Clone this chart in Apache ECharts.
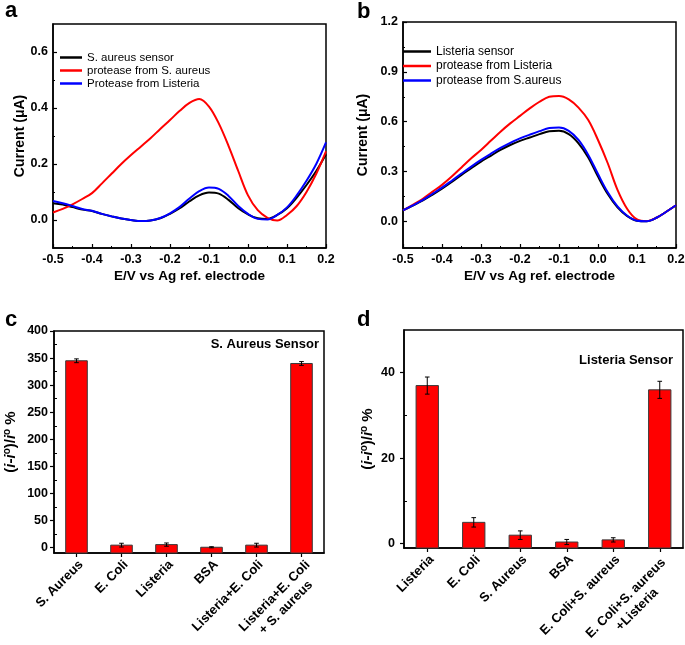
<!DOCTYPE html>
<html>
<head>
<meta charset="utf-8">
<script src="https://cdn.jsdelivr.net/npm/echarts@6.0.0/dist/echarts.min.js"></script>
<style>
html,body{margin:0;padding:0;background:#fff;}
#c{width:685px;height:645px;}
</style>
</head>
<body>
<div id="c"></div>
<script>
// ---- Data ----
const potentials = [-0.5,-0.475,-0.45,-0.425,-0.4,-0.375,-0.35,-0.325,-0.3,-0.275,-0.25,-0.225,-0.2,-0.175,-0.15,-0.125,-0.1,-0.075,-0.05,-0.025,0,0.025,0.05,0.075,0.1,0.125,0.15,0.175,0.2];

// Panel a (S. aureus sensor)
const aNames = ['S. aureus sensor','protease from S. aureus','Protease from Listeria'];
const aBlack = [0.06,0.055,0.046,0.037,0.032,0.022,0.013,0.005,0.0,-0.004,-0.002,0.006,0.022,0.042,0.067,0.088,0.098,0.094,0.072,0.042,0.02,0.006,0.004,0.018,0.042,0.08,0.125,0.175,0.235];
const aRed   = [0.027,0.04,0.056,0.075,0.096,0.13,0.165,0.2,0.232,0.262,0.292,0.325,0.357,0.39,0.418,0.432,0.405,0.345,0.265,0.175,0.088,0.035,0.008,-0.002,0.018,0.05,0.1,0.165,0.245];
const aBlue  = [0.068,0.06,0.05,0.039,0.033,0.022,0.013,0.005,0.0,-0.004,-0.002,0.007,0.024,0.047,0.077,0.103,0.116,0.111,0.086,0.05,0.022,0.004,0.002,0.018,0.045,0.088,0.14,0.2,0.277];

// Panel b (Listeria sensor)
const bNames = ['Listeria sensor','protease from Listeria','protease from S.aureus'];
const bBlack = [0.066,0.095,0.125,0.16,0.197,0.237,0.28,0.32,0.36,0.395,0.43,0.46,0.485,0.505,0.525,0.542,0.545,0.525,0.47,0.385,0.27,0.165,0.085,0.032,0.004,0.001,0.022,0.058,0.097];
const bRed   = [0.066,0.1,0.135,0.178,0.22,0.27,0.325,0.38,0.43,0.485,0.54,0.59,0.635,0.68,0.72,0.75,0.755,0.735,0.685,0.61,0.49,0.35,0.19,0.075,0.012,0.002,0.022,0.058,0.097];
const bBlue  = [0.066,0.096,0.128,0.165,0.203,0.245,0.288,0.33,0.37,0.407,0.442,0.473,0.5,0.522,0.543,0.562,0.565,0.545,0.49,0.4,0.285,0.175,0.09,0.034,0.004,0.001,0.022,0.058,0.097];

// Panel c (S. Aureus Sensor)
const cCats = ['S. Aureus','E. Coli','Listeria','BSA','Listeria+E. Coli','Listeria+E. Coli\n+ S. aureus'];
const cVals = [345,4.5,5.5,0.6,4.5,340];
const cErr  = [3.5,3.5,3,1,3.5,3.5];

// Panel d (Listeria Sensor)
const dCats = ['Listeria','E. Coli','S. Aureus','BSA','E. Coli+S. aureus','E. Coli+S. aureus\n+Listeria'];
const dVals = [37,5,2,0.4,0.9,36];
const dErr  = [2,1.1,1,0.6,0.5,2];

// Axis ticks
const aYTicks = [0,0.2,0.4,0.6];
const aYMinor = [0.1,0.3,0.5];
const bYTicks = [0,0.3,0.6,0.9,1.2];
const bYMinor = [0.15,0.45,0.75,1.05];
const cYTicks = [0,50,100,150,200,250,300,350,400];
const cYMinor = [25,75,125,175,225,275,325,375];
const dYTicks = [0,20,40];
const dYMinor = [10,30];

// ---- Chart ----
const FONT = 'Liberation Sans, Arial, Helvetica, sans-serif';
const chart = echarts.init(document.getElementById('c'), null, {renderer:'canvas'});

const axisLineStyle = {show:true, onZero:false, lineStyle:{color:'#000', width:1.5}};
const boldLabel = {color:'#000', fontWeight:'bold', fontSize:12, fontFamily:FONT};

function potentialX(gi){
  return {
    type:'value', gridIndex:gi, min:-0.5, max:0.2, interval:0.1,
    axisLine:axisLineStyle,
    axisTick:{show:true, inside:true, length:4, lineStyle:{color:'#000', width:1.2}},
    minorTick:{show:true, splitNumber:2, length:2, lineStyle:{color:'#000', width:1}},
    splitLine:{show:false}, minorSplitLine:{show:false},
    axisLabel:Object.assign({margin:5, formatter:v=>v.toFixed(1)}, boldLabel, {fontSize:12.5}),
    name:'E/V vs Ag ref. electrode', nameLocation:'middle', nameGap:21,
    nameTextStyle:{color:'#000', fontWeight:'bold', fontSize:13.5, fontFamily:FONT}
  };
}
function currentY(gi, min, max, ticks, gap){
  return {
    type:'value', gridIndex:gi, min:min, max:max, position:'left',
    axisLine:axisLineStyle,
    axisTick:{show:true, inside:true, length:4, customValues:ticks, lineStyle:{color:'#000', width:1.2}},
    splitLine:{show:false},
    axisLabel:Object.assign({margin:5, customValues:ticks, formatter:v=>v.toFixed(1)}, boldLabel, {fontSize:12.5}),
    name:'Current (\u03bcA)', nameLocation:'middle', nameGap:gap,
    nameTextStyle:{color:'#000', fontWeight:'bold', fontSize:14, fontFamily:FONT}
  };
}
function minorY(gi, min, max, ticks, len, inside){
  return {
    type:'value', gridIndex:gi, min:min, max:max, position:'left', offset:0,
    axisLine:{show:false, onZero:false},
    axisTick:{show:true, inside:inside, length:len, customValues:ticks, lineStyle:{color:'#000', width:1}},
    axisLabel:{show:false}, splitLine:{show:false}
  };
}
const pctName = '({i|i}-{i|i}{s|o})/{i|i}{s|o} %';
const pctRich = {
  i:{fontStyle:'italic', fontWeight:'bold', fontSize:15, fontFamily:FONT, color:'#000', lineHeight:18},
  s:{fontWeight:'bold', fontSize:10, fontFamily:FONT, color:'#000', verticalAlign:'top', lineHeight:18, padding:[0,0,7,0]}
};
function pctY(gi, min, max, ticks, gap, margin){
  return {
    type:'value', gridIndex:gi, min:min, max:max, position:'left',
    axisLine:axisLineStyle,
    axisTick:{show:true, inside:false, length:4, customValues:ticks, lineStyle:{color:'#000', width:1.2}},
    splitLine:{show:false},
    axisLabel:Object.assign({margin:margin, customValues:ticks}, boldLabel, {fontSize:12.5}),
    name:pctName, nameLocation:'middle', nameGap:gap,
    nameTextStyle:{color:'#000', fontWeight:'bold', fontSize:15, fontFamily:FONT, lineHeight:18, rich:pctRich}
  };
}
function catX(gi, cats, wideWidth){
  return {
    type:'category', gridIndex:gi, data:cats,
    axisLine:axisLineStyle,
    axisTick:{show:true, alignWithLabel:true, inside:false, length:4, lineStyle:{color:'#000', width:1.2}},
    splitLine:{show:false},
    axisLabel:{
      interval:0, rotate:45, hideOverlap:false, margin:5, verticalAlign:'top',
      color:'#000', fontWeight:'bold', fontSize:13, fontFamily:FONT,
      formatter:function(v){
        if(v.indexOf('\n')>=0){
          return v.split('\n').map(s=>'{m|'+s+'}').join('\n');
        }
        return v;
      },
      rich:{m:{width:wideWidth, align:'center', fontWeight:'bold', fontSize:13, fontFamily:FONT, color:'#000', lineHeight:16}}
    }
  };
}

function barSeries(gi, vals, yMin){
  return {
    type:'custom', xAxisIndex:gi, yAxisIndex:gi,
    data:vals.map((v,i)=>[i,v]),
    renderItem:function(params, api){
      const i = api.value(0), v = api.value(1);
      const top = api.coord([i, v]);
      const base = api.coord([i, yMin]);
      const w = api.size([1,0])[0]*0.48;
      return {type:'rect', shape:{x:top[0]-w/2, y:top[1], width:w, height:base[1]-top[1]},
              style:{fill:'#ff0000', stroke:'#3a3a3a', lineWidth:1}};
    },
    z:2
  };
}
function errSeries(gi, vals, errs){
  return {
    type:'custom', xAxisIndex:gi, yAxisIndex:gi,
    data:vals.map((v,i)=>[i,v,errs[i]]),
    renderItem:function(params, api){
      const i = api.value(0), v = api.value(1), e = api.value(2);
      const hi = api.coord([i, v+e]);
      const lo = api.coord([i, v-e]);
      const c = 2.3;
      const st = {stroke:'#000', lineWidth:1};
      return {type:'group', children:[
        {type:'line', shape:{x1:hi[0], y1:hi[1], x2:lo[0], y2:lo[1]}, style:st},
        {type:'line', shape:{x1:hi[0]-c, y1:hi[1], x2:hi[0]+c, y2:hi[1]}, style:st},
        {type:'line', shape:{x1:lo[0]-c, y1:lo[1], x2:lo[0]+c, y2:lo[1]}, style:st}
      ]};
    },
    z:3
  };
}
function lineSeries(name, gi, ys, color){
  return {
    name:name, type:'line', xAxisIndex:gi, yAxisIndex:gi,
    data:potentials.map((x,i)=>[x, ys[i]]),
    smooth:0.35, showSymbol:false, symbol:'none',
    lineStyle:{color:color, width:2}, itemStyle:{color:color},
    emphasis:{disabled:true}
  };
}

const gridBase = {show:true, borderColor:'#000', borderWidth:1.5, backgroundColor:'transparent', containLabel:false, outerBoundsMode:'none'};

const option = {
  animation:false,
  textStyle:{fontFamily:FONT},
  grid:[
    Object.assign({left:53, top:24, width:273, height:224}, gridBase),
    Object.assign({left:403, top:22, width:273, height:226}, gridBase),
    Object.assign({left:54, top:331, width:270, height:222}, gridBase),
    Object.assign({left:404, top:330, width:279, height:218}, gridBase)
  ],
  xAxis:[
    potentialX(0), potentialX(1),
    catX(2, cCats, 92), catX(3, dCats, 112)
  ],
  yAxis:[
    currentY(0, -0.1, 0.7, aYTicks, 26),
    currentY(1, -0.16, 1.2, bYTicks, 33),
    pctY(2, -10, 400, cYTicks, 34, 6),
    pctY(3, -1, 50, dYTicks, 13, 9),
    minorY(0, -0.1, 0.7, aYMinor, 2, true),
    minorY(1, -0.16, 1.2, bYMinor, 2, true),
    minorY(2, -10, 400, cYMinor, 3, true),
    minorY(3, -1, 50, dYMinor, 3, true)
  ],
  legend:[
    {data:aNames, left:60, top:51, orient:'vertical', padding:0, itemGap:0, itemWidth:22, itemHeight:2.5, icon:'rect',
     textStyle:{color:'#000', fontSize:11.5, fontFamily:FONT, lineHeight:13}, selectedMode:false},
    {data:bNames, left:403, top:45, orient:'vertical', padding:0, itemGap:1.5, itemWidth:28, itemHeight:2.5, icon:'rect',
     textStyle:{color:'#000', fontSize:12, fontFamily:FONT, lineHeight:13}, selectedMode:false}
  ],
  series:[
    lineSeries(aNames[0], 0, aBlack, '#000000'),
    lineSeries(aNames[1], 0, aRed, '#ff0000'),
    lineSeries(aNames[2], 0, aBlue, '#0000ff'),
    lineSeries(bNames[0], 1, bBlack, '#000000'),
    lineSeries(bNames[1], 1, bRed, '#ff0000'),
    lineSeries(bNames[2], 1, bBlue, '#0000ff'),
    barSeries(2, cVals, -10), errSeries(2, cVals, cErr),
    barSeries(3, dVals, -1), errSeries(3, dVals, dErr)
  ],
  graphic:[
    {type:'text', left:5, top:0, style:{text:'a', font:'bold 22px '+FONT, fill:'#000'}},
    {type:'text', left:357, top:1, style:{text:'b', font:'bold 22px '+FONT, fill:'#000'}},
    {type:'text', left:5, top:309, style:{text:'c', font:'bold 22px '+FONT, fill:'#000'}},
    {type:'text', left:357, top:309, style:{text:'d', font:'bold 22px '+FONT, fill:'#000'}},
    {type:'text', right:366, top:338, style:{text:'S. Aureus Sensor', font:'bold 13px '+FONT, fill:'#000'}},
    {type:'text', right:12, top:354, style:{text:'Listeria Sensor', font:'bold 13px '+FONT, fill:'#000'}}
  ]
};
chart.setOption(option);
</script>
</body>
</html>
